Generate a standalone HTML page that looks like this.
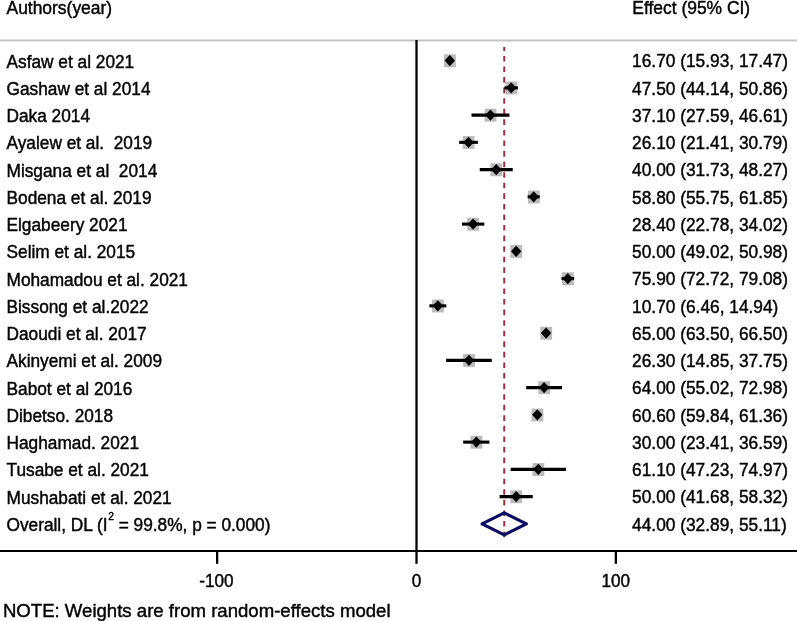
<!DOCTYPE html>
<html lang="en"><head><meta charset="utf-8"><title>Forest plot</title>
<style>html,body{margin:0;padding:0;background:#fff}body{width:797px;height:621px;overflow:hidden}svg{display:block}text{font-family:"Liberation Sans",Arial,Helvetica,sans-serif;font-size:17.68px;fill:#000;stroke:#000;stroke-width:0.42}</style></head><body>
<svg width="797" height="621" viewBox="0 0 797 621">
<rect width="797" height="621" fill="#fff"/>
<text transform="matrix(0.9870720000000001 0 0 1 6.50 13.75)">Authors(year)</text>
<text transform="matrix(0.9870720000000001 0 0 1 632.30 13.75)">Effect (95% CI)</text>
<line x1="0" y1="40.5" x2="797" y2="40.5" stroke="#c4c4c4" stroke-width="2.1"/>
<rect x="443.99" y="54.30" width="11.8" height="12.9" fill="#bbbbbb"/>
<rect x="505.39" y="81.55" width="11.8" height="12.9" fill="#bbbbbb"/>
<rect x="484.66" y="108.80" width="11.8" height="12.9" fill="#bbbbbb"/>
<rect x="462.73" y="136.05" width="11.8" height="12.9" fill="#bbbbbb"/>
<rect x="490.44" y="163.30" width="11.8" height="12.9" fill="#bbbbbb"/>
<rect x="527.92" y="190.55" width="11.8" height="12.9" fill="#bbbbbb"/>
<rect x="467.32" y="217.80" width="11.8" height="12.9" fill="#bbbbbb"/>
<rect x="510.37" y="245.05" width="11.8" height="12.9" fill="#bbbbbb"/>
<rect x="562.01" y="272.30" width="11.8" height="12.9" fill="#bbbbbb"/>
<rect x="432.03" y="299.55" width="11.8" height="12.9" fill="#bbbbbb"/>
<rect x="540.28" y="326.80" width="11.8" height="12.9" fill="#bbbbbb"/>
<rect x="463.13" y="354.05" width="11.8" height="12.9" fill="#bbbbbb"/>
<rect x="538.28" y="381.30" width="11.8" height="12.9" fill="#bbbbbb"/>
<rect x="531.51" y="408.55" width="11.8" height="12.9" fill="#bbbbbb"/>
<rect x="470.50" y="435.80" width="11.8" height="12.9" fill="#bbbbbb"/>
<rect x="532.50" y="463.05" width="11.8" height="12.9" fill="#bbbbbb"/>
<rect x="510.37" y="490.30" width="11.8" height="12.9" fill="#bbbbbb"/>
<line x1="504.25" y1="46.95" x2="504.25" y2="537.5" stroke="#98303f" stroke-width="2" stroke-dasharray="5.6 4.97" stroke-dashoffset="1.62"/>
<line x1="448.26" y1="60.60" x2="451.33" y2="60.60" stroke="#000" stroke-width="3.1"/>
<polygon points="444.59,60.60 449.79,55.00 454.99,60.60 449.79,66.30" fill="#000"/>
<line x1="504.49" y1="87.85" x2="517.89" y2="87.85" stroke="#000" stroke-width="3.1"/>
<polygon points="505.99,87.85 511.19,82.25 516.39,87.85 511.19,93.55" fill="#000"/>
<line x1="471.50" y1="115.10" x2="509.42" y2="115.10" stroke="#000" stroke-width="3.1"/>
<polygon points="485.26,115.10 490.46,109.50 495.66,115.10 490.46,120.80" fill="#000"/>
<line x1="459.18" y1="142.35" x2="477.88" y2="142.35" stroke="#000" stroke-width="3.1"/>
<polygon points="463.33,142.35 468.53,136.75 473.73,142.35 468.53,148.05" fill="#000"/>
<line x1="479.75" y1="169.60" x2="512.73" y2="169.60" stroke="#000" stroke-width="3.1"/>
<polygon points="491.04,169.60 496.24,164.00 501.44,169.60 496.24,175.30" fill="#000"/>
<line x1="527.64" y1="196.85" x2="539.80" y2="196.85" stroke="#000" stroke-width="3.1"/>
<polygon points="528.52,196.85 533.72,191.25 538.92,196.85 533.72,202.55" fill="#000"/>
<line x1="461.91" y1="224.10" x2="484.32" y2="224.10" stroke="#000" stroke-width="3.1"/>
<polygon points="467.92,224.10 473.12,218.50 478.32,224.10 473.12,229.80" fill="#000"/>
<line x1="514.22" y1="251.35" x2="518.13" y2="251.35" stroke="#000" stroke-width="3.1"/>
<polygon points="510.97,251.35 516.17,245.75 521.38,251.35 516.17,257.05" fill="#000"/>
<line x1="561.47" y1="278.60" x2="574.15" y2="278.60" stroke="#000" stroke-width="3.1"/>
<polygon points="562.61,278.60 567.81,273.00 573.01,278.60 567.81,284.30" fill="#000"/>
<line x1="429.38" y1="305.85" x2="446.28" y2="305.85" stroke="#000" stroke-width="3.1"/>
<polygon points="432.63,305.85 437.83,300.25 443.03,305.85 437.83,311.55" fill="#000"/>
<line x1="543.09" y1="333.10" x2="549.07" y2="333.10" stroke="#000" stroke-width="3.1"/>
<polygon points="540.88,333.10 546.08,327.50 551.28,333.10 546.08,338.80" fill="#000"/>
<line x1="446.10" y1="360.35" x2="491.75" y2="360.35" stroke="#000" stroke-width="3.1"/>
<polygon points="463.73,360.35 468.93,354.75 474.13,360.35 468.93,366.05" fill="#000"/>
<line x1="526.18" y1="387.60" x2="561.99" y2="387.60" stroke="#000" stroke-width="3.1"/>
<polygon points="538.88,387.60 544.08,382.00 549.28,387.60 544.08,393.30" fill="#000"/>
<line x1="535.79" y1="414.85" x2="538.82" y2="414.85" stroke="#000" stroke-width="3.1"/>
<polygon points="532.11,414.85 537.31,409.25 542.51,414.85 537.31,420.55" fill="#000"/>
<line x1="463.17" y1="442.10" x2="489.44" y2="442.10" stroke="#000" stroke-width="3.1"/>
<polygon points="471.11,442.10 476.31,436.50 481.50,442.10 476.31,447.80" fill="#000"/>
<line x1="510.65" y1="469.35" x2="565.95" y2="469.35" stroke="#000" stroke-width="3.1"/>
<polygon points="533.10,469.35 538.30,463.75 543.50,469.35 538.30,475.05" fill="#000"/>
<line x1="499.59" y1="496.60" x2="532.76" y2="496.60" stroke="#000" stroke-width="3.1"/>
<polygon points="510.97,496.60 516.17,491.00 521.38,496.60 516.17,502.30" fill="#000"/>
<polygon points="482.07,523.85 504.21,512.85 526.36,523.85 504.21,534.85" fill="none" stroke="#0b0b62" stroke-width="3.2" stroke-linejoin="round"/>
<line x1="416.50" y1="40.1" x2="416.50" y2="551" stroke="#000" stroke-width="2.3"/>
<line x1="0" y1="551.1" x2="797" y2="551.1" stroke="#000" stroke-width="2"/>
<line x1="217.15" y1="551" x2="217.15" y2="563.8" stroke="#000" stroke-width="2.3"/>
<text transform="matrix(0.97 0 0 1 216.35 587.10)" text-anchor="middle">-100</text>
<line x1="416.50" y1="551" x2="416.50" y2="563.8" stroke="#000" stroke-width="2.3"/>
<text transform="matrix(0.97 0 0 1 416.50 587.10)" text-anchor="middle">0</text>
<line x1="615.85" y1="551" x2="615.85" y2="563.8" stroke="#000" stroke-width="2.3"/>
<text transform="matrix(0.97 0 0 1 615.85 587.10)" text-anchor="middle">100</text>
<text transform="matrix(0.97776 0 0 1 6.50 67.60)">Asfaw et al 2021</text>
<text transform="matrix(0.979506 0 0 1 632.10 67.35)">16.70 (15.93, 17.47)</text>
<text transform="matrix(0.97776 0 0 1 6.50 94.85)">Gashaw et al 2014</text>
<text transform="matrix(0.979506 0 0 1 632.10 94.60)">47.50 (44.14, 50.86)</text>
<text transform="matrix(0.97776 0 0 1 6.50 122.10)">Daka 2014</text>
<text transform="matrix(0.979506 0 0 1 632.10 121.85)">37.10 (27.59, 46.61)</text>
<text transform="matrix(0.97776 0 0 1 6.50 149.35)">Ayalew et al.  2019</text>
<text transform="matrix(0.979506 0 0 1 632.10 149.10)">26.10 (21.41, 30.79)</text>
<text transform="matrix(0.97776 0 0 1 6.50 176.60)">Misgana et al  2014</text>
<text transform="matrix(0.979506 0 0 1 632.10 176.35)">40.00 (31.73, 48.27)</text>
<text transform="matrix(0.97776 0 0 1 6.50 203.85)">Bodena et al. 2019</text>
<text transform="matrix(0.979506 0 0 1 632.10 203.60)">58.80 (55.75, 61.85)</text>
<text transform="matrix(0.97776 0 0 1 6.50 231.10)">Elgabeery 2021</text>
<text transform="matrix(0.979506 0 0 1 632.10 230.85)">28.40 (22.78, 34.02)</text>
<text transform="matrix(0.97776 0 0 1 6.50 258.35)">Selim et al. 2015</text>
<text transform="matrix(0.979506 0 0 1 632.10 258.10)">50.00 (49.02, 50.98)</text>
<text transform="matrix(0.97776 0 0 1 6.50 285.60)">Mohamadou et al. 2021</text>
<text transform="matrix(0.979506 0 0 1 632.10 285.35)">75.90 (72.72, 79.08)</text>
<text transform="matrix(0.97776 0 0 1 6.50 312.85)">Bissong et al.2022</text>
<text transform="matrix(0.979506 0 0 1 632.10 312.60)">10.70 (6.46, 14.94)</text>
<text transform="matrix(0.97776 0 0 1 6.50 340.10)">Daoudi et al. 2017</text>
<text transform="matrix(0.979506 0 0 1 632.10 339.85)">65.00 (63.50, 66.50)</text>
<text transform="matrix(0.97776 0 0 1 6.50 367.35)">Akinyemi et al. 2009</text>
<text transform="matrix(0.979506 0 0 1 632.10 367.10)">26.30 (14.85, 37.75)</text>
<text transform="matrix(0.97776 0 0 1 6.50 394.60)">Babot et al 2016</text>
<text transform="matrix(0.979506 0 0 1 632.10 394.35)">64.00 (55.02, 72.98)</text>
<text transform="matrix(0.97776 0 0 1 6.50 421.85)">Dibetso. 2018</text>
<text transform="matrix(0.979506 0 0 1 632.10 421.60)">60.60 (59.84, 61.36)</text>
<text transform="matrix(0.97776 0 0 1 6.50 449.10)">Haghamad. 2021</text>
<text transform="matrix(0.979506 0 0 1 632.10 448.85)">30.00 (23.41, 36.59)</text>
<text transform="matrix(0.97776 0 0 1 6.50 476.35)">Tusabe et al. 2021</text>
<text transform="matrix(0.979506 0 0 1 632.10 476.10)">61.10 (47.23, 74.97)</text>
<text transform="matrix(0.97776 0 0 1 6.50 503.60)">Mushabati et al. 2021</text>
<text transform="matrix(0.979506 0 0 1 632.10 503.35)">50.00 (41.68, 58.32)</text>
<text transform="matrix(0.9775 0 0 1 6.50 531.05)">Overall, DL (I<tspan dx="0.6" dy="-11.2" font-size="10.61">2</tspan><tspan dy="11.2"> = 99.8%, p = 0.000)</tspan></text>
<text transform="matrix(0.979506 0 0 1 632.10 530.75)">44.00 (32.89, 55.11)</text>
<text transform="matrix(0.97776 0 0 1 2.90 616.80)" style="font-size:19.02px">NOTE: Weights are from random-effects model</text>
</svg></body></html>
